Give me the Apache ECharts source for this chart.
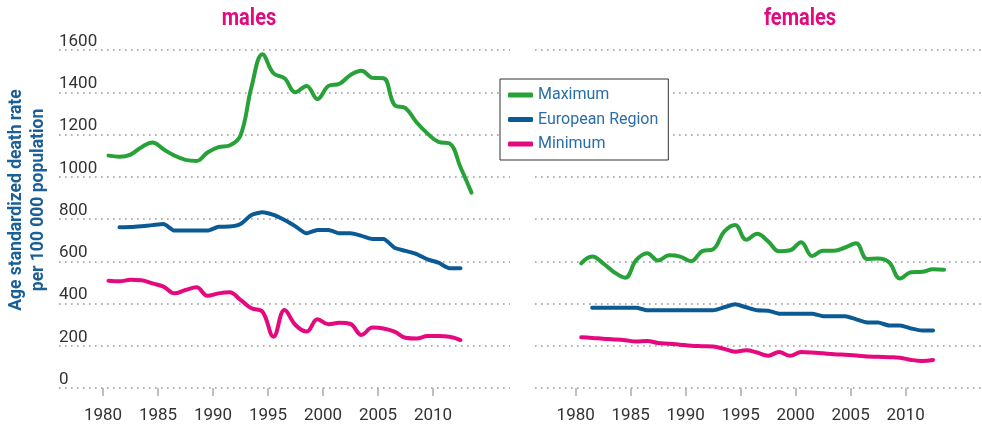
<!DOCTYPE html>
<html>
<head>
<meta charset="utf-8">
<script src="https://cdn.jsdelivr.net/npm/echarts@6/dist/echarts.min.js"></script>
<style>
  html, body { margin: 0; padding: 0; background: #fff; }
  #chart { width: 982px; height: 424px; }
</style>
</head>
<body>
<div id="chart"></div>
<script>
// years 1980-2013, null = no data
var years = [1980, 1981, 1982, 1983, 1984, 1985, 1986, 1987, 1988, 1989,
             1990, 1991, 1992, 1993, 1994, 1995, 1996, 1997, 1998, 1999,
             2000, 2001, 2002, 2003, 2004, 2005, 2006, 2007, 2008, 2009,
             2010, 2011, 2012, 2013]
var yearTicks = [1980, 1985, 1990, 1995, 2000, 2005, 2010]
var seriesNames = ['Maximum', 'European Region', 'Minimum']

// males
var maleMax = [1100, 1095, 1105, 1140, 1162, 1130, 1100, 1080, 1075, 1115,
               1140, 1148, 1195, 1425, 1580, 1490, 1466, 1400, 1430, 1368,
               1430, 1440, 1482, 1502, 1468, 1466, 1340, 1325, 1258, 1205,
               1165, 1158, 1045, 925]
var maleEur = [null, 761, 762, 766, 771, 776, 745, 745, 745, 745,
               763, 764, 776, 819, 832, 819, 795, 765, 732, 748,
               748, 732, 732, 720, 705, 705, 664, 649, 634, 609,
               593, 567, 567, null]
var maleMin = [508, 505, 512, 510, 495, 480, 448, 464, 477, 437,
               448, 453, 417, 377, 361, 243, 369, 298, 267, 325,
               302, 309, 303, 251, 286, 282, 267, 238, 234, 246,
               246, 243, 227, null]

// females
var femaleMax = [590, 622, 590, 548, 522, 605, 638, 603, 628, 622,
                 600, 648, 657, 740, 772, 702, 730, 694, 647, 652,
                 690, 625, 650, 650, 665, 685, 611, 613, 595, 518,
                 548, 550, 562, 560]
var femaleEur = [null, 380, 380, 380, 380, 380, 368, 368, 368, 368,
                 368, 368, 368, 382, 396, 382, 368, 366, 352, 352,
                 352, 352, 340, 340, 340, 325, 310, 310, 296, 296,
                 282, 272, 272, null]
var femaleMin = [240, 237, 233, 230, 226, 220, 222, 213, 210, 205,
                 200, 198, 196, 185, 172, 179, 168, 153, 170, 153,
                 170, 168, 164, 160, 157, 154, 149, 148, 146, 143,
                 133, 128, 133, null]

var colors = ['#27a138', '#0b5a94', '#e4097f']
var font = 'Roboto, "Liberation Sans", sans-serif'

// annual values are drawn at mid-year
const toPoints = (vals) => {
  let arr = []
  years.forEach((y, i) => {
    if (vals[i] != null) arr.push([y + 0.5, vals[i]])
  })
  return arr
}

const makeX = (idx, min, max) => ({
  type: 'value',
  gridIndex: idx,
  min: min,
  max: max,
  offset: 4,
  axisLine: { show: false },
  splitLine: { show: false },
  axisTick: {
    customValues: yearTicks,
    length: 8,
    lineStyle: { color: '#aaa', width: 1.5 }
  },
  axisLabel: {
    customValues: yearTicks,
    formatter: (v) => String(v),
    margin: 15,
    color: '#333',
    fontSize: 17,
    fontFamily: font
  }
})

const makeY = (idx, showLabel) => ({
  type: 'value',
  gridIndex: idx,
  min: 0,
  max: 1600,
  interval: 200,
  axisLine: { show: false },
  axisTick: { show: false },
  axisLabel: {
    show: showLabel,
    inside: true,
    margin: 0,
    formatter: (v) => String(v),
    verticalAlign: 'bottom',
    color: '#333',
    fontSize: 17,
    fontFamily: font
  },
  splitLine: {
    lineStyle: { color: '#999', width: 1.6, type: [1.6, 4.4] }
  }
})

const makeLine = (name, idx, vals, color, smooth) => ({
  name: name,
  type: 'line',
  xAxisIndex: idx,
  yAxisIndex: idx,
  data: toPoints(vals),
  smooth: smooth,
  showSymbol: false,
  symbol: 'none',
  lineStyle: { color: color, width: 4, cap: 'round', join: 'round' },
  itemStyle: { color: color },
  z: 3
})

var myChart = echarts.init(document.getElementById('chart'))
var option = {
  animation: false,
  color: colors,
  grid: [
    { left: 59, top: 50, width: 451, height: 338 },
    { left: 535, top: 50, width: 447, height: 338 }
  ],
  xAxis: [makeX(0, 1976, 2017), makeX(1, 1976.3, 2016.95)],
  yAxis: [makeY(0, true), makeY(1, false)],
  legend: {
    orient: 'vertical',
    left: 500,
    top: 79,
    data: seriesNames,
    icon: 'roundRect',
    itemWidth: 25,
    itemHeight: 5,
    itemGap: 6.5,
    padding: [7, 10, 7, 8],
    borderColor: '#333',
    borderWidth: 1,
    borderRadius: 0,
    backgroundColor: '#fff',
    z: 10,
    textStyle: {
      color: '#2a6ea6',
      fontSize: 16,
      lineHeight: 18,
      fontFamily: font
    }
  },
  graphic: [
    {
      type: 'text', x: 249, y: 19, scaleX: 0.87,
      style: {
        text: 'males', fill: '#e4097f', fontSize: 23, fontWeight: 'bold',
        fontFamily: font, textAlign: 'center', textVerticalAlign: 'middle'
      }
    },
    {
      type: 'text', x: 800, y: 19, scaleX: 0.87,
      style: {
        text: 'females', fill: '#e4097f', fontSize: 23, fontWeight: 'bold',
        fontFamily: font, textAlign: 'center', textVerticalAlign: 'middle'
      }
    },
    {
      type: 'text', x: 27, y: 200, rotation: Math.PI / 2, scaleX: 0.92,
      style: {
        text: 'Age standardized death rate\nper 100 000 population',
        fill: '#1b5f98', fontSize: 19, fontWeight: 'bold', lineHeight: 22,
        fontFamily: font, textAlign: 'center', textVerticalAlign: 'middle'
      }
    }
  ],
  series: [
    makeLine('Maximum', 0, maleMax, colors[0], 0.4),
    makeLine('European Region', 0, maleEur, colors[1], 0.2),
    makeLine('Minimum', 0, maleMin, colors[2], 0.4),
    makeLine('Maximum', 1, femaleMax, colors[0], 0.4),
    makeLine('European Region', 1, femaleEur, colors[1], 0.2),
    makeLine('Minimum', 1, femaleMin, colors[2], 0.4)
  ]
}
myChart.setOption(option)
</script>
</body>
</html>
